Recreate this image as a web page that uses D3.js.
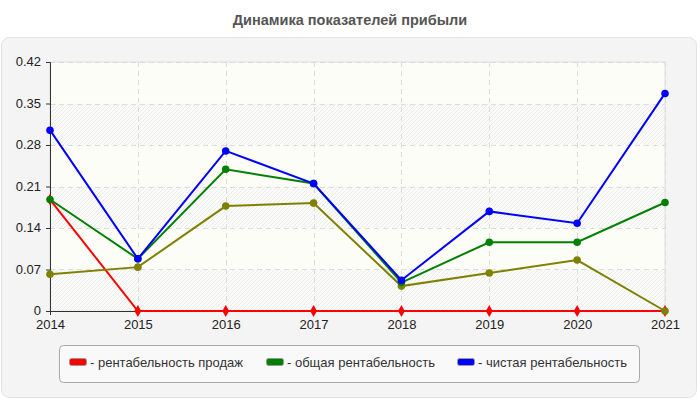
<!DOCTYPE html>
<html>
<head>
<meta charset="utf-8">
<script src="https://d3js.org/d3.v7.min.js"></script>
<style>
  body { margin: 0; background: #fff; }
  svg { display: block; font-family: "Liberation Sans", Arial, sans-serif; }
</style>
</head>
<body>
<script>
const years = ["2014", "2015", "2016", "2017", "2018", "2019", "2020", "2021"];
const salesProfit = [0.188, 0, 0, 0, 0, 0, 0, 0];
const totalProfit = [0.188, 0.088, 0.239, 0.215, 0.048, 0.116, 0.116, 0.183];
const netProfit = [0.305, 0.088, 0.270, 0.215, 0.052, 0.168, 0.148, 0.367];
const otherSeries = [0.062, 0.074, 0.177, 0.182, 0.042, 0.064, 0.086, 0];
const yTicks = [0, 0.07, 0.14, 0.21, 0.28, 0.35, 0.42];
const legendLabels = ["- рентабельность продаж", "- общая рентабельность", "- чистая рентабельность"];

const W = 700, H = 400;
const svg = d3.select("body").append("svg").attr("width", W).attr("height", H);

// title
svg.append("text")
  .attr("x", 350).attr("y", 25)
  .attr("text-anchor", "middle")
  .attr("font-size", 14.5).attr("font-weight", "bold")
  .attr("fill", "#555")
  .text("Динамика показателей прибыли");

// outer panel
svg.append("rect")
  .attr("x", 1.5).attr("y", 37.5).attr("width", 695).attr("height", 360)
  .attr("rx", 8)
  .attr("fill", "#f4f4f4").attr("stroke", "#e2e2e2");

const pLeft = 50, pRight = 665, pTop = 62, pBottom = 311;
const x = d3.scalePoint().domain(years).range([pLeft, pRight]);
const y = d3.scaleLinear().domain([0, 0.42]).range([pBottom, pTop]);

// hatch pattern
const defs = svg.append("defs");
const pat = defs.append("pattern")
  .attr("id", "hatch").attr("patternUnits", "userSpaceOnUse")
  .attr("width", 4).attr("height", 4);
pat.append("rect").attr("width", 4).attr("height", 4).attr("fill", "#fbfbf9");
pat.append("path").attr("d", "M-1,1 l2,-2 M0,4 l4,-4 M3,5 l2,-2")
  .attr("stroke", "#ececec").attr("stroke-width", 1);

// plot background bands
svg.append("rect")
  .attr("x", pLeft).attr("y", pTop).attr("width", pRight - pLeft).attr("height", pBottom - pTop)
  .attr("fill", "#fdfdf7");
const bands = yTicks.slice(0, -1).map((d, i) => [d, yTicks[i + 1]]).filter((d, i) => i % 2 === 0);
svg.append("g").selectAll("rect")
  .data(bands)
  .join("rect")
  .attr("x", pLeft)
  .attr("y", d => y(d[1]))
  .attr("width", pRight - pLeft)
  .attr("height", d => y(d[0]) - y(d[1]))
  .attr("fill", "url(#hatch)");
svg.append("rect")
  .attr("x", pLeft).attr("y", pTop).attr("width", pRight - pLeft).attr("height", pBottom - pTop)
  .attr("fill", "none").attr("stroke", "#dedede");

// grid
svg.append("g").selectAll("line")
  .data(yTicks.slice(1))
  .join("line")
  .attr("x1", pLeft).attr("x2", pRight)
  .attr("y1", d => Math.round(y(d)) + 0.5).attr("y2", d => Math.round(y(d)) + 0.5)
  .attr("stroke", "#dcdcdc").attr("stroke-dasharray", "5,4");
svg.append("g").selectAll("line")
  .data(years.slice(1))
  .join("line")
  .attr("x1", d => Math.round(x(d)) + 0.5).attr("x2", d => Math.round(x(d)) + 0.5)
  .attr("y1", pTop).attr("y2", pBottom)
  .attr("stroke", "#dcdcdc").attr("stroke-dasharray", "5,4");

// axes
const yAxis = svg.append("g")
  .attr("transform", `translate(${pLeft},0)`)
  .call(d3.axisLeft(y).tickValues(yTicks).tickSize(4).tickPadding(5)
    .tickFormat(d => d === 0 ? "0" : d3.format(".2f")(d)));
const xAxis = svg.append("g")
  .attr("transform", `translate(0,${pBottom})`)
  .call(d3.axisBottom(x).tickSize(4).tickPadding(5));
[yAxis, xAxis].forEach(a => {
  a.select(".domain").attr("stroke", "#333");
  a.selectAll(".tick line").attr("stroke", "#333");
  a.selectAll(".tick text").attr("fill", "#222").attr("font-size", 13)
    .attr("font-family", "'Liberation Sans', Arial, sans-serif");
});
yAxis.selectAll(".tick text").attr("dy", "0.3em");

// series
const series = [
  { values: salesProfit, color: "#ff0000", symbol: d3.symbolDiamond },
  { values: otherSeries, color: "#808000", symbol: d3.symbolCircle },
  { values: totalProfit, color: "#008000", symbol: d3.symbolCircle },
  { values: netProfit, color: "#0000ff", symbol: d3.symbolCircle }
];
const line = d3.line().x((d, i) => x(years[i])).y(d => y(d));
series.forEach(s => {
  const g = svg.append("g");
  g.append("path").datum(s.values)
    .attr("d", line).attr("fill", "none")
    .attr("stroke", s.color).attr("stroke-width", 2);
  g.selectAll("path.pt")
    .data(s.values)
    .join("path")
    .attr("class", "pt")
    .attr("transform", (d, i) => `translate(${x(years[i])},${y(d)})`)
    .attr("d", d3.symbol().type(s.symbol).size(s.symbol === d3.symbolDiamond ? 40 : 45))
    .attr("fill", s.color);
});

// legend
svg.append("rect")
  .attr("x", 59.5).attr("y", 345.5).attr("width", 580).attr("height", 37)
  .attr("rx", 4)
  .attr("fill", "#f9f9f9").attr("stroke", "#aaa");
const legendColors = ["#ff0000", "#008000", "#0000ff"];
const legendX = [69, 266, 457];
const lg = svg.append("g").selectAll("g")
  .data(legendLabels)
  .join("g")
  .attr("transform", (d, i) => `translate(${legendX[i]},358)`);
lg.append("rect")
  .attr("x", 0.5).attr("y", 0.5).attr("width", 17).attr("height", 7).attr("rx", 2)
  .attr("fill", (d, i) => legendColors[i]).attr("stroke", "#999");
lg.append("text")
  .attr("x", 21).attr("y", 8.5)
  .attr("font-size", 13).attr("fill", "#333")
  .text(d => d);
</script>
</body>
</html>
